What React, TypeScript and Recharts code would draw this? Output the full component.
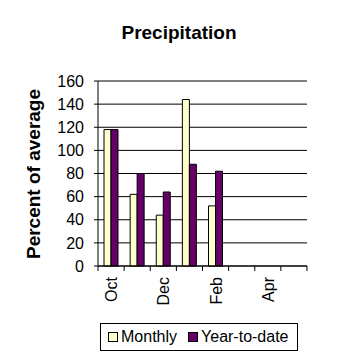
import { BarChart, Bar, XAxis, YAxis, CartesianGrid } from "recharts";

const months = ["Oct", "Nov", "Dec", "Jan", "Feb", "Mar", "Apr", "May"];
const monthly = [118, 62, 44, 144, 52, null, null, null];
const yearToDate = [118, 80, 64, 88, 82, null, null, null];
const yTicks = [0, 20, 40, 60, 80, 100, 120, 140, 160];

const data = months.map((m, i) => ({
  month: m,
  monthly: monthly[i],
  ytd: yearToDate[i],
}));

const FONT = '"Liberation Sans", Arial, sans-serif';
const BAND = 26.1;

const MonthTick = (props: any) => {
  const { x, y, payload, index } = props;
  const last = index === months.length - 1;
  return (
    <g>
      <line x1={x - BAND / 2} y1={y} x2={x - BAND / 2} y2={y + 5} stroke="#000" />
      {last && (
        <line x1={x + BAND / 2} y1={y} x2={x + BAND / 2} y2={y + 5} stroke="#000" />
      )}
      {index % 2 === 0 && (
        <text
          transform={`translate(${x + 6},${y + 11}) rotate(-90)`}
          textAnchor="end"
          fontSize={16}
          fontFamily={FONT}
          fill="#000"
        >
          {payload.value}
        </text>
      )}
    </g>
  );
};

export default function App() {
  return (
    <div
      style={{
        position: "absolute",
        left: 0,
        top: 0,
        width: 358,
        height: 358,
        background: "#fff",
        fontFamily: FONT,
      }}
    >
      {/* Title */}
      <div
        style={{
          position: "absolute",
          left: 0,
          width: 358,
          top: 22,
          textAlign: "center",
          fontWeight: "bold",
          fontSize: 19,
          lineHeight: "22px",
        }}
      >
        Precipitation
      </div>

      {/* Y axis label */}
      <div
        style={{
          position: "absolute",
          left: 34,
          top: 174,
          transform: "translate(-50%, -50%) rotate(-90deg)",
          whiteSpace: "nowrap",
          fontWeight: "bold",
          fontSize: 19,
          lineHeight: "22px",
        }}
      >
        Percent of average
      </div>

      <BarChart
        width={358}
        height={358}
        data={data}
        margin={{ top: 81, right: 51, bottom: 42, left: 0 }}
        barSize={7}
        barGap={0}
        style={{ position: "absolute", left: 0, top: 0 }}
      >
        <CartesianGrid vertical={false} stroke="#000" />
        <XAxis
          dataKey="month"
          interval={0}
          height={50}
          tickSize={0}
          tickMargin={0}
          axisLine={{ stroke: "#000" }}
          tickLine={false}
          tick={<MonthTick />}
        />
        <YAxis
          width={98}
          domain={[0, 160]}
          ticks={yTicks}
          interval={0}
          tickSize={4}
          tickMargin={10}
          axisLine={{ stroke: "#000" }}
          tickLine={{ stroke: "#000" }}
          tick={{ fill: "#000", fontSize: 16, fontFamily: FONT }}
        />
        <Bar dataKey="monthly" fill="#FFFFCC" stroke="#000" isAnimationActive={false} />
        <Bar dataKey="ytd" fill="#660066" stroke="#000" isAnimationActive={false} />
      </BarChart>

      {/* Legend */}
      <div
        style={{
          position: "absolute",
          left: 100,
          top: 323,
          width: 196,
          height: 26,
          border: "1px solid #000",
          display: "flex",
          alignItems: "center",
          fontSize: 16,
        }}
      >
        <span
          style={{
            display: "inline-block",
            width: 8,
            height: 8,
            border: "1px solid #000",
            background: "#FFFFCC",
            marginLeft: 7,
            marginRight: 3,
          }}
        />
        <span>Monthly</span>
        <span
          style={{
            display: "inline-block",
            width: 8,
            height: 8,
            border: "1px solid #000",
            background: "#660066",
            marginLeft: 11,
            marginRight: 3,
          }}
        />
        <span>Year-to-date</span>
      </div>
    </div>
  );
}
